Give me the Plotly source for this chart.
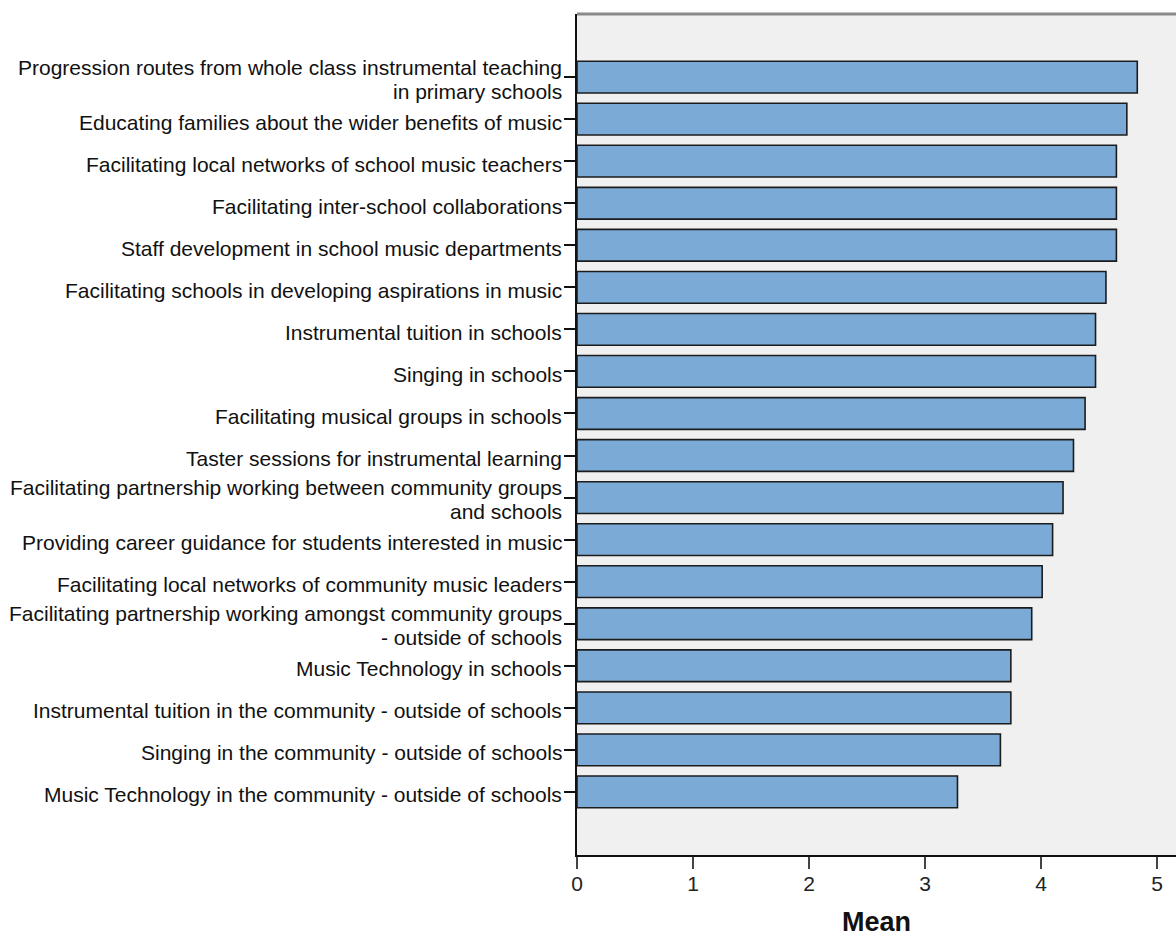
import plotly.graph_objects as go

categories = [
    "Progression routes from whole class instrumental teaching<br>in primary schools",
    "Educating families about the wider benefits of music",
    "Facilitating local networks of school music teachers",
    "Facilitating inter-school collaborations",
    "Staff development in school music departments",
    "Facilitating schools in developing aspirations in music",
    "Instrumental tuition in schools",
    "Singing in schools",
    "Facilitating musical groups in schools",
    "Taster sessions for instrumental learning",
    "Facilitating partnership working between community groups<br>and schools",
    "Providing career guidance for students interested in music",
    "Facilitating local networks of community music leaders",
    "Facilitating partnership working amongst community groups<br>- outside of schools",
    "Music Technology in schools",
    "Instrumental tuition in the community - outside of schools",
    "Singing in the community - outside of schools",
    "Music Technology in the community - outside of schools",
]
means = [4.83, 4.74, 4.65, 4.65, 4.65, 4.56, 4.47, 4.47, 4.38, 4.28,
         4.19, 4.10, 4.01, 3.92, 3.74, 3.74, 3.65, 3.28]
x_ticks = [0, 1, 2, 3, 4, 5]
x_title = "Mean"

FONT = "Arial, Liberation Sans, sans-serif"

fig = go.Figure()
fig.add_trace(go.Bar(
    x=means, y=categories, orientation="h",
    width=0.754,
    marker=dict(color="#7BAAD6", line=dict(color="#1c1c1c", width=1.6)),
    showlegend=False, hoverinfo="x+y",
))

annotations = []
for cat in categories:
    lines = cat.split("<br>")
    if len(lines) == 1:
        shifts = [-3]
    else:
        shifts = [10 - 24 * k for k in range(len(lines))]
    for line, ys in zip(lines, shifts):
        annotations.append(dict(
            x=0, xref="paper", y=cat, yref="y",
            text=line, showarrow=False,
            xanchor="right", yanchor="middle",
            xshift=-13, yshift=ys,
            font=dict(family=FONT, size=21, color="#111111"),
        ))

n = len(categories)
fig.update_layout(
    width=1176, height=937,
    margin=dict(l=577, r=0, t=14, b=82),
    paper_bgcolor="white",
    plot_bgcolor="#f0f0f0",
    annotations=annotations,
    shapes=[dict(type="line", xref="paper", yref="paper",
                 x0=0, x1=1, y0=1, y1=1,
                 line=dict(color="#8a8a8a", width=3))],
    xaxis=dict(
        range=[0, 599 / 116], tickvals=x_ticks,
        ticks="outside", ticklen=12, tickwidth=2, tickcolor="#444444",
        ticklabelstandoff=-3,
        showline=True, linecolor="#111111", linewidth=1.5,
        showgrid=False, zeroline=False,
        tickfont=dict(family=FONT, size=21, color="#222222"),
        title=dict(text="<b>" + x_title + "</b>", standoff=20,
                   font=dict(family=FONT, size=27, color="#111111")),
        fixedrange=True,
    ),
    yaxis=dict(
        type="category", categoryorder="array", categoryarray=categories,
        range=[n - 1 + 1.5, -1.5],
        ticks="outside", ticklen=11, tickwidth=1.5, tickcolor="#111111",
        showticklabels=False,
        showline=True, linecolor="#111111", linewidth=1.5,
        showgrid=False, zeroline=False,
        fixedrange=True,
    ),
    bargap=0.25,
)

fig.write_html("out.html", config={"displayModeBar": False},
               post_script="document.body.style.margin='0';")
